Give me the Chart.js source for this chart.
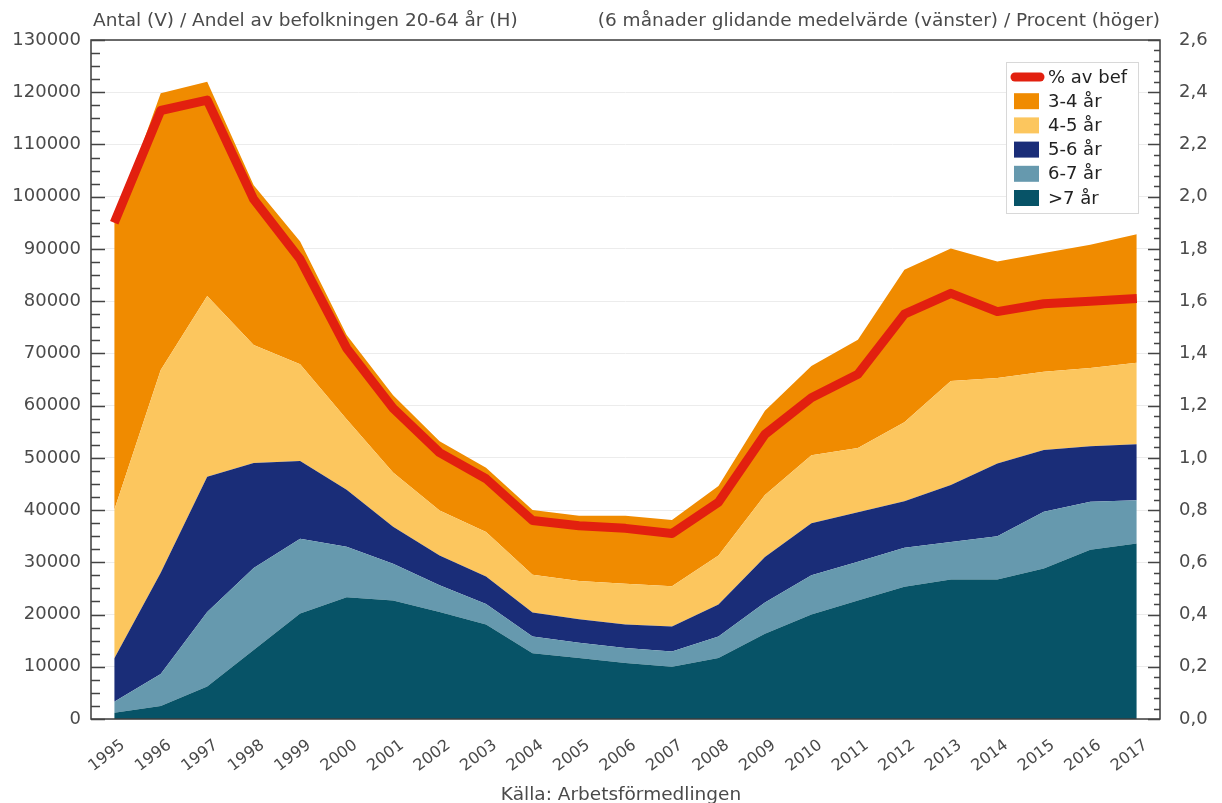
<!DOCTYPE html>
<html>
<head>
<meta charset="utf-8">
<script src="https://cdn.jsdelivr.net/npm/chart.js@4/dist/chart.umd.min.js"></script>
<style>
  body { margin: 0; background: #fff; }
  #wrap { width: 1222px; height: 803px; }
</style>
</head>
<body>
<div id="wrap"><canvas id="chart" width="1222" height="803"></canvas></div>
<script>
// data (antal per grupp, stapled)
const years = ['1995','1996','1997','1998','1999','2000','2001','2002','2003','2004','2005','2006',
  '2007','2008','2009','2010','2011','2012','2013','2014','2015','2016','2017'];
const over7 = [1200, 2500, 6200, 13200, 20200, 23300, 22700, 20500, 18100, 12600, 11700, 10700,
  10000, 11700, 16300, 20000, 22700, 25300, 26700, 26700, 28800, 32400, 33600];
const yrs6to7 = [2100, 6100, 14300, 15700, 14300, 9700, 7000, 5100, 3900, 3200, 2900, 2900,
  2900, 4100, 6000, 7500, 7400, 7500, 7200, 8300, 10900, 9200, 8300];
const yrs5to6 = [8300, 19400, 25900, 20100, 14900, 10900, 7100, 5700, 5300, 4600, 4500, 4500,
  4800, 6100, 8700, 10000, 9500, 8900, 10900, 13900, 11800, 10600, 10700];
const yrs4to5 = [28400, 38800, 34600, 22600, 18500, 13500, 10400, 8600, 8500, 7200, 7300, 7800,
  7700, 9400, 11900, 13000, 12300, 15100, 19900, 16400, 15000, 15000, 15600];
const yrs3to4 = [55000, 53000, 41000, 30600, 23500, 16100, 14800, 13300, 12300, 12400, 12500, 13000,
  12700, 13300, 16100, 17100, 20700, 29200, 25400, 22300, 22700, 23600, 24600];
const pctOfPop = [1.90, 2.33, 2.37, 1.99, 1.76, 1.42, 1.19, 1.02, 0.92, 0.76, 0.74, 0.73,
  0.71, 0.83, 1.09, 1.23, 1.32, 1.55, 1.63, 1.56, 1.59, 1.60, 1.61];

const leftTitle = 'Antal (V) / Andel av befolkningen 20-64 år (H)';
const rightTitle = '(6 månader glidande medelvärde (vänster) / Procent (höger)';
const sourceText = 'Källa: Arbetsförmedlingen';

const FONT = '"DejaVu Sans", sans-serif';
const TXT = '#4a4a4a';

function area(label, data, color, fill) {
  return {
    label: label, data: data, yAxisID: 'y', fill: fill,
    backgroundColor: color, borderColor: color, borderWidth: 0,
    pointRadius: 0, tension: 0, order: 1
  };
}

// frame, inward ticks, titles, legend
const decorations = {
  id: 'decorations',
  afterDraw(chart) {
    const ctx = chart.ctx;
    const a = chart.chartArea;
    const y = chart.scales.y, y2 = chart.scales.y2;
    ctx.save();
    ctx.strokeStyle = '#3c3c3c';
    ctx.lineWidth = 1.5;
    ctx.strokeRect(a.left, a.top, a.right - a.left, a.bottom - a.top);

    ctx.lineWidth = 1.4;
    ctx.strokeStyle = '#444';
    ctx.beginPath();
    for (let v = 0; v <= 130000; v += 2500) {
      const py = Math.round(y.getPixelForValue(v)) + 0.5;
      const len = v % 10000 === 0 ? 14 : 9;
      ctx.moveTo(a.left, py); ctx.lineTo(a.left + len, py);
    }
    for (let i = 0; i <= 65; i++) {
      const py = Math.round(y2.getPixelForValue(i * 0.04)) + 0.5;
      const len = i % 5 === 0 ? 12 : 6;
      ctx.moveTo(a.right, py); ctx.lineTo(a.right - len, py);
    }
    ctx.stroke();

    // titles
    ctx.fillStyle = TXT;
    ctx.font = '18.5px ' + FONT;
    ctx.textBaseline = 'alphabetic';
    ctx.textAlign = 'left';
    ctx.fillText(leftTitle, a.left + 2, 26);
    ctx.textAlign = 'right';
    ctx.fillText(rightTitle, a.right, 26);
    ctx.textAlign = 'center';
    ctx.font = '18.5px ' + FONT;
    ctx.fillText(sourceText, 621, 800);

    // legend box
    const lx = 1006, ly = 62, lw = 132, lh = 151;
    ctx.fillStyle = '#fff';
    ctx.fillRect(lx, ly, lw, lh);
    ctx.strokeStyle = '#d8d8d8';
    ctx.lineWidth = 1;
    ctx.strokeRect(lx + 0.5, ly + 0.5, lw, lh);
    const ds = chart.data.datasets;
    const order = [5, 4, 3, 2, 1, 0];
    ctx.font = '18px ' + FONT;
    ctx.textAlign = 'left';
    ctx.textBaseline = 'middle';
    order.forEach((di, r) => {
      const cy = 77 + r * 24.2;
      const d = ds[di];
      if (di === 5) {
        ctx.strokeStyle = d.borderColor;
        ctx.lineWidth = 9;
        ctx.lineCap = 'round';
        ctx.beginPath();
        ctx.moveTo(1015, cy); ctx.lineTo(1040, cy);
        ctx.stroke();
      } else {
        ctx.fillStyle = d.backgroundColor;
        ctx.fillRect(1014, cy - 8, 25, 16);
      }
      ctx.fillStyle = '#222';
      ctx.fillText(d.label, 1048, cy + 1);
    });
    ctx.restore();
  }
};

new Chart(document.getElementById('chart'), {
  type: 'line',
  data: {
    labels: years,
    datasets: [
      area('>7 år', over7, '#075367', 'origin'),
      area('6-7 år', yrs6to7, '#6699AE', '-1'),
      area('5-6 år', yrs5to6, '#1A2D78', '-1'),
      area('4-5 år', yrs4to5, '#FCC65E', '-1'),
      area('3-4 år', yrs3to4, '#F08B00', '-1'),
      {
        label: '% av bef', data: pctOfPop, yAxisID: 'y2', fill: false,
        borderColor: '#E2200F', backgroundColor: '#E2200F', borderWidth: 9,
        borderJoinStyle: 'round', pointRadius: 0, tension: 0, order: 0
      }
    ]
  },
  options: {
    responsive: false,
    devicePixelRatio: 1,
    animation: false,
    layout: { padding: { top: 40, left: 0, right: 0, bottom: 0 } },
    plugins: { legend: { display: false }, tooltip: { enabled: false } },
    scales: {
      x: {
        offset: true,
        z: 1,
        grid: { offset: false, color: 'rgba(255,255,255,0.10)', drawTicks: false },
        border: { display: false },
        ticks: {
          autoSkip: false, maxRotation: 37, minRotation: 37,
          labelOffset: 9, padding: 17,
          color: TXT, font: { family: FONT, size: 16 }
        },
        afterFit(scale) { scale.height = 84; }
      },
      y: {
        stacked: true,
        min: 0, max: 130000,
        grid: { color: '#ececec', drawTicks: false },
        border: { display: false },
        ticks: {
          stepSize: 10000, padding: 10, color: TXT, font: { family: FONT, size: 18 },
          callback: v => String(v)
        },
        afterFit(scale) { scale.width = 91; }
      },
      y2: {
        position: 'right',
        min: 0, max: 2.6,
        grid: { display: false, drawTicks: false },
        border: { display: false },
        ticks: {
          stepSize: 0.2, padding: 19, color: TXT, font: { family: FONT, size: 18 },
          callback: v => v.toFixed(1).replace('.', ',')
        },
        afterFit(scale) { scale.width = 62; }
      }
    }
  },
  plugins: [decorations]
});
</script>
</body>
</html>
